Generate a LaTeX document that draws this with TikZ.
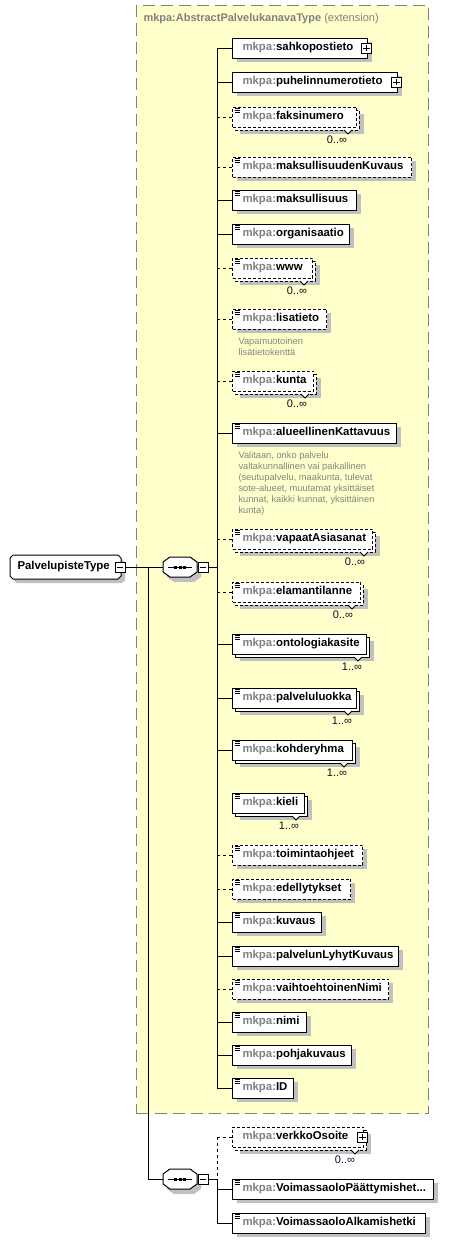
\documentclass[tikz,border=0pt]{standalone}
\usepackage{fontspec}
\setmainfont{Liberation Sans}
\definecolor{ylw}{RGB}{255,255,204}
\definecolor{shc}{RGB}{192,192,192}
\definecolor{pfx}{RGB}{128,128,128}
\definecolor{ann}{RGB}{128,136,128}
\definecolor{brd}{RGB}{128,128,128}
\definecolor{mult}{RGB}{24,8,40}
\newcommand\boxfont{\fontsize{11.4}{13}\selectfont}
\newcommand\mk[1]{\textbf{\textcolor{pfx}{mkpa:}#1}}
\tikzset{
  elem/.style={draw=black, fill=white, anchor=west, inner sep=0pt, minimum height=20pt, font=\boxfont},
  opt/.style={dash pattern=on 3pt off 2pt},
  optconn/.style={dash pattern=on 3pt off 3pt},
  multlabel/.style={font=\fontsize{11}{13}\selectfont, text=mult, inner sep=0pt},
  annot/.style={font=\fontsize{9.3}{11}\selectfont, text=ann, anchor=north west, align=left, inner sep=0pt},
  iconbox/.style={draw=black, fill=white, minimum size=10pt, inner sep=0pt, line width=0.8pt},
}
% single element: id, y, right, label, style
\newcommand\single[5]{%
  \pgfmathsetmacro\bw{#3-232}%
  \fill[shc] (237,{-#2-14}) rectangle ({#3+5},{-#2+6});
  \node[elem,#5] (#1) at (232,-#2) {\makebox[\bw pt][l]{\hspace{10pt}\mk{#4}}};
}
% multiple element: id, y, right, label, style, label x, label text
\newcommand\multi[7]{%
  \pgfmathsetmacro\bw{#3-232}%
  \fill[shc] (240,{-#2+3}) rectangle ({#3+8},{-#2-17});
  \draw[fill=white,#5] (235,{-#2+7}) rectangle ({#3+3},{-#2-13});
  \draw[fill=white, line width=0.8pt] ({#3-12},{-#2-13}) -- ({#3-8},{-#2-17}) -- ({#3-4},{-#2-13});
  \node[elem,#5] (#1) at (232,-#2) {\makebox[\bw pt][l]{\hspace{10pt}\mk{#4}}};
  \node[multlabel] (#1-n) at (#6,{-#2-23}) {#7};
}
\newcommand\sicon[1]{\foreach \k in {2,3.8,5.6}{\draw[line width=0.55pt] ([shift={(2.5,-\k)}]#1.north west) -- ++(5.5,0);}}
\newcommand\plusic[1]{%
  \node[iconbox] (#1-p) at ([xshift=-1.5]#1.east) {};
  \draw[line width=0.8pt] ([xshift=2]#1-p.west) -- ([xshift=-2]#1-p.east) ([yshift=-2]#1-p.north) -- ([yshift=2]#1-p.south);
}
\newcommand\comp[2]{%
  \fill[shc, shift={(4,-5)}] (170,{-#2+10}) -- (190,{-#2+10}) -- (197,{-#2+5}) -- (197,{-#2-5}) -- (190,{-#2-10}) -- (170,{-#2-10}) -- (163,{-#2-5}) -- (163,{-#2+5}) -- cycle;
  \draw[fill=white] (170,{-#2+10}) -- (190,{-#2+10}) -- (197,{-#2+5}) -- (197,{-#2-5}) -- (190,{-#2-10}) -- (170,{-#2-10}) -- (163,{-#2-5}) -- (163,{-#2+5}) -- cycle;
  \node[minimum width=34pt, minimum height=20pt, inner sep=0pt] (#1) at (180,-#2) {};
  \draw (168,-#2) -- (192,-#2);
  \foreach \d in {175.5,180,184.5}{\fill (\d-1.5,-#2-1.5) rectangle ++(3,3);}
  \node[iconbox] (#1-m) at (203,-#2) {};
  \draw[line width=0.8pt] ([xshift=2]#1-m.west) -- ([xshift=-2]#1-m.east);
}
\begin{document}
\begin{tikzpicture}[x=1pt,y=1pt,line width=1pt]
\useasboundingbox (0,0) rectangle (462,-1242);
% extension container
\node[draw=brd, fill=ylw, dash pattern=on 12pt off 6pt, anchor=north west, minimum width=292pt, minimum height=1108pt, inner sep=0pt] (ext) at (136,-5) {};
\node[anchor=west, inner sep=0pt, font=\fontsize{11}{13}\selectfont, text=pfx] (title) at (143,-19) {\textbf{mkpa:AbstractPalvelukanavaType} (extension)};

% root type
\fill[shc, shift={(4,-4)}] (13,-555) -- (118,-555) -- (121,-558) -- (121,-576) -- (118,-579) -- (13,-579) -- (10,-576) -- (10,-558) -- cycle;
\draw[fill=white] (13,-555) -- (118,-555) -- (121,-558) -- (121,-576) -- (118,-579) -- (13,-579) -- (10,-576) -- (10,-558) -- cycle;
\node[anchor=west, inner sep=0pt, minimum height=24pt, font=\boxfont] (ptype) at (10,-567) {\makebox[111pt][l]{\hspace{7pt}\textbf{PalvelupisteType}}};
\node[iconbox] (ptype-m) at (120,-567) {};
\draw[line width=0.8pt] ([xshift=2]ptype-m.west) -- ([xshift=-2]ptype-m.east);

% compositors
\comp{c1}{567}
\comp{c2}{1179}
\coordinate (k) at (148,-567);
\coordinate (j1) at (217,-567);
\coordinate (j2) at (217,-1179);
\draw (ptype-m.east) -- (c1.west);
\draw (k) |- (c2.west);
\draw (c1-m.east) -- (j1);
\draw (c2-m.east) -- (j2);

% first sequence elements
\single{sahk}{48}{367}{sahkopostieto}{}
\plusic{sahk}
\single{puhe}{82}{397}{puhelinnumerotieto}{}
\plusic{puhe}
\multi{faks}{117}{356}{faksinumero}{opt}{337}{0..∞}
\sicon{faks}
\single{maksK}{167}{411}{maksullisuudenKuvaus}{opt}
\sicon{maksK}
\single{maks}{200}{356}{maksullisuus}{}
\sicon{maks}
\single{org}{234}{349}{organisaatio}{}
\sicon{org}
\multi{www}{268}{312}{www}{opt}{297}{0..∞}
\sicon{www}
\single{lisa}{319}{326}{lisatieto}{opt}
\sicon{lisa}
\node[annot] (lisa-a) at (238,-337) {Vapamuotoinen\\lisätietokenttä};
\multi{kunta}{381}{313}{kunta}{opt}{297}{0..∞}
\sicon{kunta}
\single{alue}{433}{396}{alueellinenKattavuus}{}
\sicon{alue}
\node[annot] (alue-a) at (238,-451) {Valitaan, onko palvelu\\valtakunnallinen vai paikallinen\\(seutupalvelu, maakunta, tulevat\\sote-alueet, muutamat yksittäiset\\kunnat, kaikki kunnat, yksittäinen\\kunta)};
\multi{vapaat}{539}{372}{vapaatAsiasanat}{opt}{355}{0..∞}
\sicon{vapaat}
\multi{elam}{592}{360}{elamantilanne}{opt}{343}{0..∞}
\sicon{elam}
\multi{onto}{644}{366}{ontologiakasite}{}{352}{1..∞}
\sicon{onto}
\multi{pluokka}{698}{356}{palveluluokka}{}{342}{1..∞}
\sicon{pluokka}
\multi{kohde}{750}{352}{kohderyhma}{}{337}{1..∞}
\sicon{kohde}
\multi{kieli}{803}{304}{kieli}{}{289}{1..∞}
\sicon{kieli}
\single{toim}{855}{362}{toimintaohjeet}{opt}
\sicon{toim}
\single{edel}{889}{350}{edellytykset}{opt}
\sicon{edel}
\single{kuv}{922}{321}{kuvaus}{}
\sicon{kuv}
\single{lyhyt}{956}{398}{palvelunLyhytKuvaus}{}
\sicon{lyhyt}
\single{vaiht}{989}{388}{vaihtoehtoinenNimi}{opt}
\sicon{vaiht}
\single{nimi}{1022}{306}{nimi}{}
\sicon{nimi}
\single{pohja}{1055}{351}{pohjakuvaus}{}
\sicon{pohja}
\single{id}{1088}{293}{ID}{}
\sicon{id}

% spine 1
\draw (sahk.west -| j1) -- (id.west -| j1);
\foreach \n in {sahk,puhe,maks,org,alue,onto,pluokka,kohde,kuv,lyhyt,nimi,pohja,id}{\draw (\n.west -| j1) -- (\n.west);}
\foreach \n in {faks,maksK,www,lisa,kunta,vapaat,elam,toim,edel,vaiht}{\draw[optconn] (\n.west -| j1) -- (\n.west);}

% second sequence
\multi{verkko}{1137}{363}{verkkoOsoite}{opt}{345}{0..∞}
\plusic{verkko}
\single{vpaat}{1189}{433}{VoimassaoloPäättymishet...}{}
\sicon{vpaat}
\single{valk}{1223}{425}{VoimassaoloAlkamishetki}{}
\sicon{valk}
\draw[optconn] (verkko.west -| j2) -- (j2);
\draw (j2) -- (valk.west -| j2);
\draw[optconn] (verkko.west -| j2) -- (verkko.west);
\draw (vpaat.west -| j2) -- (vpaat.west);
\draw (valk.west -| j2) -- (valk.west);
\end{tikzpicture}
\end{document}
